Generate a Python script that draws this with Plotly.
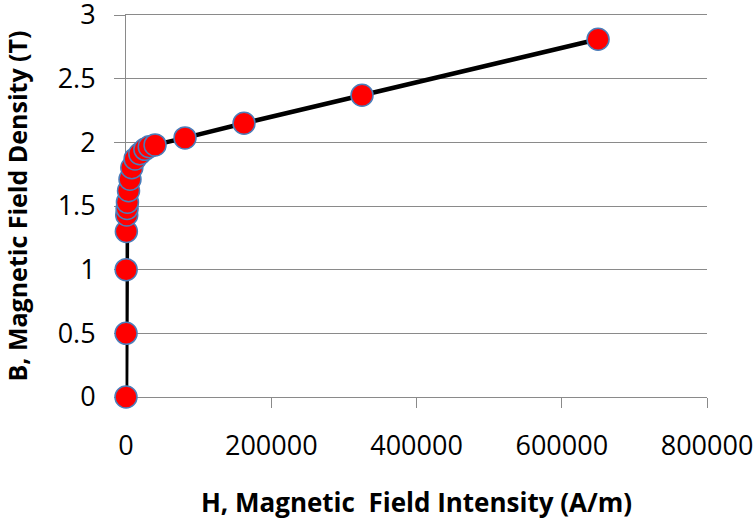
import plotly.graph_objects as go

H_values = [0, 100, 200, 500, 1000, 1500, 2000, 3500, 5500, 8000, 12500,
            19000, 26000, 32000, 40000, 81250, 162500, 325000, 650000]
B_values = [0, 0.5, 1.0, 1.3, 1.43, 1.48, 1.53, 1.62, 1.71, 1.80, 1.87,
            1.91, 1.945, 1.965, 1.98, 2.035, 2.15, 2.37, 2.81]

x_ticks = [0, 200000, 400000, 600000, 800000]
y_ticks = [0, 0.5, 1, 1.5, 2, 2.5, 3]
x_title = "H, Magnetic  Field Intensity (A/m)"
y_title = "B, Magnetic Field Density (T)"

FONT = "Open Sans"
GRID = "#8a8a8a"

fig = go.Figure()
fig.add_trace(go.Scatter(
    x=H_values, y=B_values, mode="lines+markers",
    line=dict(color="black", width=4.5),
    marker=dict(size=22, color="#ff0000", line=dict(color="#4a7ebb", width=1.5)),
    showlegend=False, cliponaxis=False,
))

fig.update_layout(
    width=756, height=520,
    margin=dict(l=126, r=49, t=15, b=123),
    paper_bgcolor="white", plot_bgcolor="white",
    font=dict(family=FONT, size=27, color="black"),
    xaxis=dict(
        range=[0, 800000], tickvals=x_ticks, ticktext=[str(v) for v in x_ticks],
        showgrid=False, zeroline=False, automargin=False, layer="below traces",
        showline=True, mirror=True, linecolor=GRID, linewidth=1,
        ticks="outside", ticklen=10, tickcolor=GRID, tickwidth=1,
        ticklabelstandoff=15, ticklabeloverflow="allow",
        title=dict(text="<b>" + x_title + "</b>", font=dict(family=FONT, size=26), standoff=32),
    ),
    yaxis=dict(
        range=[0, 3], tickvals=y_ticks, ticktext=[f"{v:g}" for v in y_ticks],
        showgrid=True, gridcolor=GRID, gridwidth=1, zeroline=False, automargin=False,
        layer="below traces",
        showline=True, linecolor=GRID, linewidth=1,
        ticks="outside", ticklen=11, tickcolor=GRID, tickwidth=1,
        ticklabelstandoff=13, ticklabeloverflow="allow",
        title=dict(text="<b>" + y_title + "</b>", font=dict(family=FONT, size=25), standoff=40),
    ),
)

fig.write_html("out.html", config={"displayModeBar": False},
               post_script="document.body.style.margin='0';")
